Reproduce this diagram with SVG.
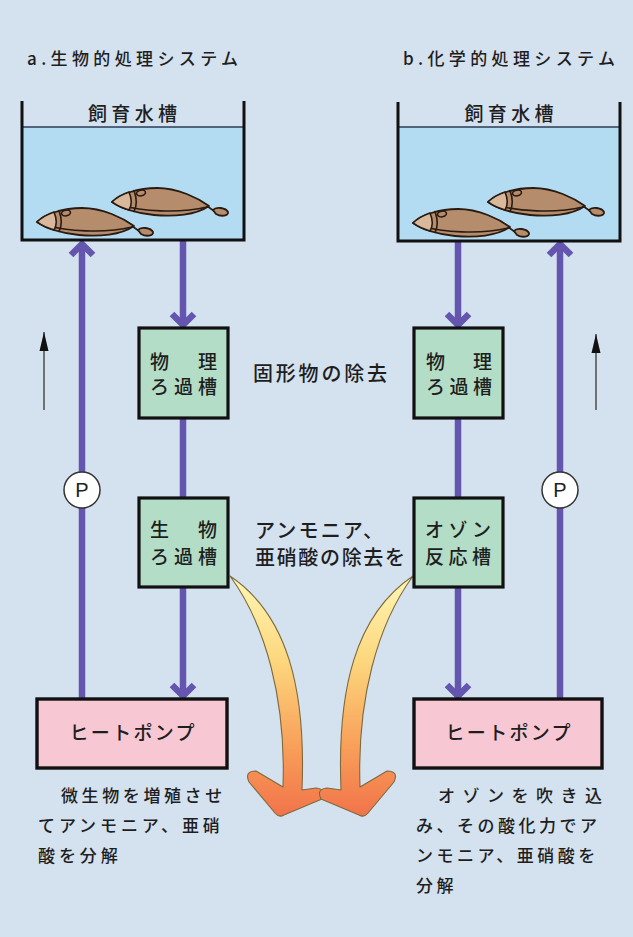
<svg xmlns="http://www.w3.org/2000/svg" xmlns:xlink="http://www.w3.org/1999/xlink" width="633" height="937" viewBox="0 0 633 937">
  <style>
    .t { font-family: "Noto Sans CJK JP", "Noto Sans", sans-serif; fill: #1e1e1e; font-weight: 500; }
    .title { font-size: 17px; }
    .tank-lbl { font-size: 19px; }
    .box-lbl { font-size: 19px; }
    .note { font-size: 20px; }
    .desc { font-size: 17px; }
    .tank { fill: none; stroke: #111; stroke-width: 3; }
    .water { fill: #b3dcf2; }
    .waterline { stroke: #2d3b55; stroke-width: 1.3; }
    .filter { fill: #b3ddc6; stroke: #111; stroke-width: 3.2; }
    .pump-box { fill: #f7c8d4; stroke: #111; stroke-width: 3.4; }
    .pipe { fill: none; stroke: #6456ae; stroke-width: 6.5; }
    .flow { fill: none; stroke: #555; stroke-width: 1.6; }
    .pump { fill: #fff; stroke: #333; stroke-width: 1.5; }
    .p { font-family: "Liberation Sans", Arial, sans-serif; font-size: 20px; fill: #222; }
    .fish-body { fill: #b68d6c; stroke: #2a1a10; stroke-width: 1.8; stroke-linejoin: round; }
    .fish-nose { fill: #d9b89b; stroke: #2a1a10; stroke-width: 1.6; }
    .fish-line { fill: none; stroke: #2a1a10; stroke-width: 1.6; stroke-linecap: round; }
    .bigarrow { fill: url(#warm); stroke: #7d6a3c; stroke-width: 1.1; stroke-linejoin: round; }
  </style>
  <defs>
    <!-- chevron head for the water pipes -->
    <marker id="chev" viewBox="-16 -16 22 32" refX="-1" refY="0" markerWidth="22" markerHeight="32" markerUnits="userSpaceOnUse" orient="auto" overflow="visible">
      <path d="M-12,-11 L-1,0 L-12,11" fill="none" stroke="#6456ae" stroke-width="6.5"/>
    </marker>
    <!-- small filled head for the flow-direction arrows -->
    <marker id="tri" viewBox="-20 -6 22 12" refX="0" refY="0" markerWidth="22" markerHeight="12" markerUnits="userSpaceOnUse" orient="auto">
      <path d="M-19,-4.5 L0,0 L-19,4.5 Z" fill="#111"/>
    </marker>
    <linearGradient id="warm" gradientUnits="userSpaceOnUse" x1="0" y1="576" x2="0" y2="816">
      <stop offset="0" stop-color="#fff7b4"/>
      <stop offset="0.35" stop-color="#fdd77e"/>
      <stop offset="0.7" stop-color="#f8a15a"/>
      <stop offset="1" stop-color="#f2734a"/>
    </linearGradient>
    <!-- flatfish, nose at the origin -->
    <g id="fish">
      <path class="fish-line" d="M95,4 L102,9"/>
      <path class="fish-body" d="M101,8 C104,4 114,6 116,10 C117,14 109,15 104,12 Z"/>
      <path class="fish-body" d="M0,0 C8,-8 26,-14 45,-14 C66,-14 86,-4 97,4 C84,13 62,15 42,13 C22,11 9,6 0,0 Z"/>
      <path class="fish-line" d="M7,3 C30,9 66,12 95,5"/>
      <path class="fish-nose" d="M0,0 C5,-5 11,-8 17,-10 C20,-3 20,3 17,8 C10,6 4,3 0,0 Z"/>
      <path class="fish-line" d="M22,-11.5 C25,-3 25,4 22,9.5"/>
      <ellipse class="fish-line" cx="29" cy="-9" rx="4.5" ry="2.8" transform="rotate(-10 29 -9)"/>
    </g>
    <!-- curved removal arrow (left-hand version) -->
    <path id="bend" d="M230,576 C288,615 306,690 302,790 L316,788 Q327,789 322,799 L284,815 Q279,818 275,813 L249,782 Q244,771 256,771 L283,787 C286,700 266,625 230,576 Z"/>
  </defs>

  <rect width="633" height="937" fill="#d4e1ef"/>

  <!-- headings -->
  <text class="t title" x="27" y="64.5" textLength="211">a.生物的処理システム</text>
  <text class="t title" x="403" y="64.5" textLength="212">b.化学的処理システム</text>

  <!-- connectors -->
  <g id="connectors">
    <!-- system a -->
    <line class="pipe" x1="183" y1="241" x2="183" y2="325" marker-end="url(#chev)"/>
    <line class="pipe" x1="183" y1="418" x2="183" y2="498"/>
    <line class="pipe" x1="183" y1="587" x2="183" y2="696" marker-end="url(#chev)"/>
    <line class="pipe" x1="82" y1="699" x2="82" y2="244" marker-end="url(#chev)"/>
    <line class="flow" x1="44" y1="410" x2="44" y2="332" marker-end="url(#tri)"/>
    <!-- system b -->
    <line class="pipe" x1="458" y1="241" x2="458" y2="325" marker-end="url(#chev)"/>
    <line class="pipe" x1="458" y1="418" x2="458" y2="498"/>
    <line class="pipe" x1="458" y1="587" x2="458" y2="696" marker-end="url(#chev)"/>
    <line class="pipe" x1="560" y1="699" x2="560" y2="244" marker-end="url(#chev)"/>
    <line class="flow" x1="596" y1="410" x2="596" y2="334" marker-end="url(#tri)"/>
    <!-- removal arrows -->
    <use id="arrow-a" class="bigarrow" xlink:href="#bend"/>
    <use id="arrow-b" class="bigarrow" xlink:href="#bend" transform="translate(643,0) scale(-1,1)"/>
  </g>

  <!-- system a: tank -->
  <g id="tank-a">
    <rect class="water" x="22" y="127" width="222" height="113"/>
    <line class="waterline" x1="22" y1="127" x2="244" y2="127"/>
    <use xlink:href="#fish" transform="translate(112,202)"/>
    <use xlink:href="#fish" transform="translate(37,222)"/>
    <path class="tank" d="M22,101 V240 H244 V101"/>
    <text class="t tank-lbl" x="132.5" y="120.5" text-anchor="middle" textLength="89">飼育水槽</text>
  </g>

  <g id="filter-a1">
    <rect class="filter" x="139" y="328" width="89" height="90"/>
    <text class="t box-lbl" x="150" y="369" textLength="67">物　理</text>
    <text class="t box-lbl" x="150" y="394" textLength="67">ろ過槽</text>
  </g>
  <g id="filter-a2">
    <rect class="filter" x="139" y="498" width="89" height="89"/>
    <text class="t box-lbl" x="150" y="537" textLength="67">生　物</text>
    <text class="t box-lbl" x="150" y="564" textLength="67">ろ過槽</text>
  </g>
  <g id="pump-a">
    <circle class="pump" cx="82" cy="490" r="18"/>
    <text class="p" x="82" y="497" text-anchor="middle">P</text>
  </g>
  <g id="heatpump-a">
    <rect class="pump-box" x="37" y="699" width="190" height="69"/>
    <text class="t box-lbl" x="132" y="740" text-anchor="middle" textLength="125">ヒートポンプ</text>
  </g>

  <!-- system b: tank -->
  <g id="tank-b">
    <rect class="water" x="398" y="127" width="222" height="114"/>
    <line class="waterline" x1="398" y1="127" x2="620" y2="127"/>
    <use xlink:href="#fish" transform="translate(488,202)"/>
    <use xlink:href="#fish" transform="translate(413,223)"/>
    <path class="tank" d="M398,102 V241 H620 V102"/>
    <text class="t tank-lbl" x="509" y="120.5" text-anchor="middle" textLength="89">飼育水槽</text>
  </g>

  <g id="filter-b1">
    <rect class="filter" x="414" y="328" width="89" height="90"/>
    <text class="t box-lbl" x="426" y="369" textLength="66">物　理</text>
    <text class="t box-lbl" x="426" y="394" textLength="66">ろ過槽</text>
  </g>
  <g id="ozone-b2">
    <rect class="filter" x="414" y="498" width="89" height="89"/>
    <text class="t box-lbl" x="425" y="537" textLength="66">オゾン</text>
    <text class="t box-lbl" x="425" y="564" textLength="66">反応槽</text>
  </g>
  <g id="pump-b">
    <circle class="pump" cx="560" cy="490" r="18"/>
    <text class="p" x="560" y="497" text-anchor="middle">P</text>
  </g>
  <g id="heatpump-b">
    <rect class="pump-box" x="414" y="699" width="188" height="69"/>
    <text class="t box-lbl" x="508" y="740" text-anchor="middle" textLength="125">ヒートポンプ</text>
  </g>

  <!-- shared notes between the two columns -->
  <g id="notes">
    <text class="t note" x="253" y="380.5" textLength="134">固形物の除去</text>
    <text class="t note" x="255" y="537.5" textLength="128">アンモニア、</text>
    <text class="t note" x="255" y="564.5" textLength="150">亜硝酸の除去を</text>
  </g>

  <!-- descriptions -->
  <g id="desc-a">
    <text class="t desc" x="61" y="801.5" letter-spacing="3.6">微生物を増殖させ</text>
    <text class="t desc" x="38" y="831.5" letter-spacing="3.9">てアンモニア、亜硝</text>
    <text class="t desc" x="38" y="861.5" letter-spacing="3.9">酸を分解</text>
  </g>
  <g id="desc-b">
    <text class="t desc" x="438" y="801.5" textLength="164">オゾンを吹き込</text>
    <text class="t desc" x="416" y="831.5" letter-spacing="3.5">み、その酸化力でア</text>
    <text class="t desc" x="416" y="861.5" letter-spacing="3.5">ンモニア、亜硝酸を</text>
    <text class="t desc" x="416" y="891.5" letter-spacing="3.5">分解</text>
  </g>
</svg>
